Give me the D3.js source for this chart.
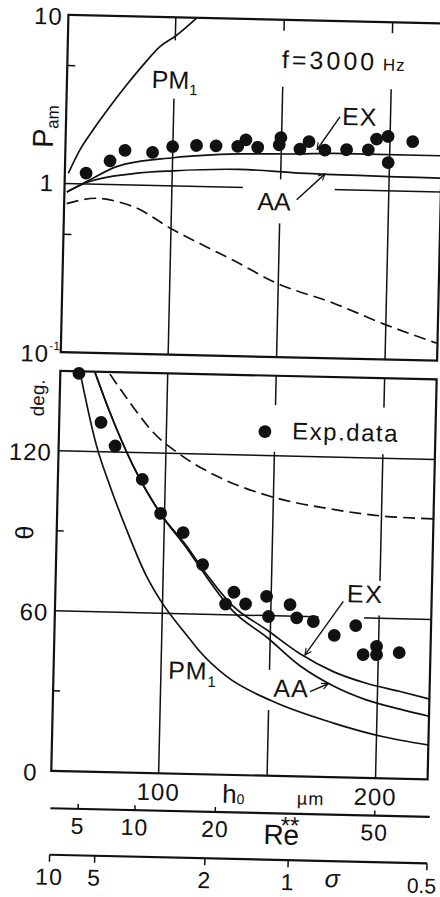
<!DOCTYPE html>
<html>
  <head>
    <style>
      body { margin: 0; background: #fff; }
      text { font-family: 'Liberation Sans', Arial, sans-serif; fill: #111; }
      .frame { fill: none; stroke: #111; stroke-width: 2.2px; }
      .grid { stroke: #111; stroke-width: 1.5px; }
      .curve { fill: none; stroke: #111; stroke-width: 1.7px; }
      .dashed { stroke-dasharray: 12, 6; }
      .knock { fill: #fff; }
      .lead { stroke: #111; stroke-width: 1.4px; fill: none; }
    </style>
  </head>
  <body>
    <script src="https://d3js.org/d3.v7.min.js"></script>
    <script>
      // ---- data (h0 in micrometres) ----
      // upper panel: amplitude ratio P_am (log)
      var pamMinor = [5, 0.5];
      var topDotH0 = [60.3, 71.2, 78, 90.7, 99.9, 110.9, 119.9, 129.9, 133.6, 139.1, 149, 149.7, 158.6, 162.7, 170.1, 180.1, 190.1, 193.8, 199.1, 199.4, 210.5];
      var topDotPam = [1.16, 1.38, 1.6, 1.57, 1.71, 1.75, 1.75, 1.75, 1.92, 1.74, 1.81, 2.0, 1.72, 1.91, 1.71, 1.73, 1.74, 2.02, 2.1, 1.47, 1.97];
      var pm1TopH0 = [52.1, 57.2, 63.1, 70.6, 78.1, 85.5, 93, 99.8, 109.6];
      var pm1TopPam = [1.15, 1.59, 2.10, 2.9, 3.92, 5.17, 6.67, 7.69, 9.95];
      var exTopH0 = [51.6, 62.2, 74.3, 100.4, 131, 158.7, 174, 223.2];
      var exTopPam = [0.89, 1.06, 1.28, 1.47, 1.58, 1.61, 1.64, 1.64];
      var aaTopH0 = [51.6, 60.6, 82.1, 100.4, 131, 158.9, 223.5];
      var aaTopPam = [0.89, 1.02, 1.17, 1.23, 1.28, 1.24, 1.21];
      var dashTopH0 = [51.7, 65.4, 77.7, 82.4, 101, 116.6, 129, 149.3, 175.4, 200.4, 223.6];
      var dashTopPam = [0.76, 0.826, 0.778, 0.745, 0.55, 0.44, 0.37, 0.274, 0.213, 0.16, 0.127];

      // lower panel: phase angle theta (deg.)
      var thetaTicks = [120, 60, 0];
      var thetaMinor = [90, 30];
      var botDotH0 = [59.1, 69.8, 76.5, 89.4, 98.2, 108.8, 118.1, 129.1, 132.8, 138.3, 147.9, 149, 158.8, 162, 169.7, 179.5, 189.3, 193, 199.1, 199.2, 209.6];
      var botDotTheta = [149.2, 131, 122.3, 110, 97.4, 90.4, 78.6, 64, 68.5, 64.2, 67.2, 59.7, 64.3, 59.4, 58.2, 53.2, 57, 46.2, 49.4, 46.3, 47.3];
      var pm1BotH0 = [59.6, 68, 74.6, 82.7, 92.4, 98.8, 111.5, 117.7, 130.3, 151, 180, 203.1, 224];
      var pm1BotTheta = [149.6, 122.1, 107.2, 91, 73.7, 65.1, 52, 46, 36.9, 28.2, 20.3, 15.6, 12.9];
      var exBotH0 = [66.5, 73.8, 85.1, 97.9, 110.6, 118.4, 132.7, 148.3, 163.9, 179.4, 194.8, 210.4, 224.2];
      var exBotTheta = [149.7, 134.8, 114.9, 97.6, 85.3, 76.7, 63.2, 54.7, 46, 39.6, 35.5, 32.7, 30.1];
      var aaBotH0 = [66.5, 73.8, 85.1, 97.9, 110.6, 118.4, 132.7, 148.3, 164, 179.4, 194.9, 210.5, 224.4];
      var aaBotTheta = [149.7, 134.8, 114.9, 97.6, 84.6, 75.8, 61.3, 52, 41.5, 34.3, 29.3, 26.1, 23.6];
      var dashBotH0 = [73.4, 82.9, 94, 106.5, 123.6, 148.4, 177.7, 200.8, 223.9];
      var dashBotTheta = [149.2, 138.7, 127.7, 119.7, 111.9, 104.8, 100.4, 98.3, 97.7];

      // abscissae
      var h0Ticks = [100, 150, 200];
      var h0Labels = [100, 200];
      var reTicks = [5, 10, 20, 50];
      var sigmaLabels = ["10", "5", "2", "1", "0.5"];
      var sigmaAtH0 = [50.6, 71.4, 122.2, 160.6, 224.6];

      // ---- layout ----
      var width = 440, height = 897;
      var svg = d3.select("body").append("svg")
        .attr("width", width)
        .attr("height", height);

      svg.append("defs").append("marker")
        .attr("id", "head")
        .attr("viewBox", "0 0 10 10")
        .attr("refX", 9).attr("refY", 5)
        .attr("markerWidth", 8).attr("markerHeight", 8)
        .attr("markerUnits", "userSpaceOnUse")
        .attr("orient", "auto")
        .append("path")
        .attr("d", "M1,1 L9,5 L1,9")
        .attr("fill", "none").attr("stroke", "#111").attr("stroke-width", 1.4);

      // the scanned figure sits slightly turned on the page
      var g = svg.append("g").attr("transform", "rotate(1.3,220,450)");

      var x = d3.scaleLinear().domain([50.5, 224]).range([58.6, 435]);
      var yP = d3.scaleLog().domain([0.1, 10]).range([355.8, 18.4]);
      var yT = d3.scaleLinear().domain([0, 150]).range([774.6, 374.5]);
      var xRe = d3.scaleSqrt().domain([50.5 * 50.5 / 800, 224 * 224 / 800]).range(x.range());

      var gridG = g.append("g");
      var knockG = g.append("g");
      var curveG = g.append("g");
      var textG = g.append("g");

      // grid lines
      gridG.selectAll(".vt").data(h0Ticks).enter().append("line")
        .attr("class", "grid")
        .attr("x1", function(d) { return x(d); }).attr("x2", function(d) { return x(d); })
        .attr("y1", yP(10)).attr("y2", yP(0.1));
      gridG.append("line").attr("class", "grid")
        .attr("x1", x.range()[0]).attr("x2", x.range()[1])
        .attr("y1", yP(1)).attr("y2", yP(1));
      gridG.selectAll(".vb").data(h0Ticks).enter().append("line")
        .attr("class", "grid")
        .attr("x1", function(d) { return x(d); }).attr("x2", function(d) { return x(d); })
        .attr("y1", yT(150)).attr("y2", yT(0));
      gridG.selectAll(".hb").data([60, 120]).enter().append("line")
        .attr("class", "grid")
        .attr("x1", x.range()[0]).attr("x2", x.range()[1])
        .attr("y1", function(d) { return yT(d); }).attr("y2", function(d) { return yT(d); });
      gridG.selectAll(".mt").data(pamMinor).enter().append("line")
        .attr("class", "grid")
        .attr("x1", x.range()[0]).attr("x2", x.range()[0] + 8)
        .attr("y1", function(d) { return yP(d); }).attr("y2", function(d) { return yP(d); });
      gridG.selectAll(".mb").data(thetaMinor).enter().append("line")
        .attr("class", "grid")
        .attr("x1", x.range()[0]).attr("x2", x.range()[0] + 7)
        .attr("y1", function(d) { return yT(d); }).attr("y2", function(d) { return yT(d); });

      // white gaps the draughtsman left round the labels
      var knockTop = [[93, 118, 3.3, 7.3], [145, 215, 4.0, 8.6], [132.7, 175, 0.62, 1.13]];
      var knockBot = [[142, 215, 121.5, 139], [180, 206, 61, 74], [172, 193, 58.5, 62], [142, 163, 24.6, 39.7]];
      knockG.selectAll(".kt").data(knockTop).enter().append("rect")
        .attr("class", "knock")
        .attr("x", function(d) { return x(d[0]); })
        .attr("width", function(d) { return x(d[1]) - x(d[0]); })
        .attr("y", function(d) { return yP(d[3]); })
        .attr("height", function(d) { return yP(d[2]) - yP(d[3]); });
      knockG.selectAll(".kb").data(knockBot).enter().append("rect")
        .attr("class", "knock")
        .attr("x", function(d) { return x(d[0]); })
        .attr("width", function(d) { return x(d[1]) - x(d[0]); })
        .attr("y", function(d) { return yT(d[3]); })
        .attr("height", function(d) { return yT(d[2]) - yT(d[3]); });

      // frames
      g.append("rect").attr("class", "frame")
        .attr("x", x.range()[0]).attr("y", yP(10))
        .attr("width", x.range()[1] - x.range()[0]).attr("height", yP(0.1) - yP(10));
      g.append("rect").attr("class", "frame")
        .attr("x", x.range()[0]).attr("y", yT(150))
        .attr("width", x.range()[1] - x.range()[0]).attr("height", yT(0) - yT(150));

      // curves
      var lineP = d3.line().curve(d3.curveMonotoneX)
        .x(function(d) { return x(d[0]); }).y(function(d) { return yP(d[1]); });
      var lineT = d3.line().curve(d3.curveMonotoneX)
        .x(function(d) { return x(d[0]); }).y(function(d) { return yT(d[1]); });

      [[pm1TopH0, pm1TopPam, ""], [exTopH0, exTopPam, ""], [aaTopH0, aaTopPam, ""], [dashTopH0, dashTopPam, " dashed"]]
        .forEach(function(c) {
          curveG.append("path").attr("class", "curve" + c[2]).attr("d", lineP(d3.zip(c[0], c[1])));
        });
      [[pm1BotH0, pm1BotTheta, ""], [exBotH0, exBotTheta, ""], [aaBotH0, aaBotTheta, ""], [dashBotH0, dashBotTheta, " dashed"]]
        .forEach(function(c) {
          curveG.append("path").attr("class", "curve" + c[2]).attr("d", lineT(d3.zip(c[0], c[1])));
        });

      // experimental points
      curveG.selectAll(".dt").data(d3.zip(topDotH0, topDotPam)).enter().append("circle")
        .attr("cx", function(d) { return x(d[0]); })
        .attr("cy", function(d) { return yP(d[1]); })
        .attr("r", 6.4).attr("fill", "#111");
      curveG.selectAll(".db").data(d3.zip(botDotH0, botDotTheta)).enter().append("circle")
        .attr("cx", function(d) { return x(d[0]); })
        .attr("cy", function(d) { return yT(d[1]); })
        .attr("r", 6.4).attr("fill", "#111");

      // leader lines
      var leadTop = [[176.7, 2.70, 166.5, 1.72], [157.6, 0.86, 170.4, 1.236]];
      var leadBot = [[183.3, 66, 166.2, 45.6], [168.9, 31.9, 177.2, 35.0]];
      leadTop.forEach(function(d) {
        curveG.append("line").attr("class", "lead").attr("marker-end", "url(#head)")
          .attr("x1", x(d[0])).attr("y1", yP(d[1])).attr("x2", x(d[2])).attr("y2", yP(d[3]));
      });
      leadBot.forEach(function(d) {
        curveG.append("line").attr("class", "lead").attr("marker-end", "url(#head)")
          .attr("x1", x(d[0])).attr("y1", yT(d[1])).attr("x2", x(d[2])).attr("y2", yT(d[3]));
      });

      // text helper: parts = [text, size, dy, letterSpacing, italic]
      function label(px, py, anchor, parts) {
        var t = textG.append("text").attr("x", px).attr("y", py).attr("text-anchor", anchor);
        parts.forEach(function(p) {
          var s = t.append("tspan").text(p[0]).style("font-size", p[1] + "px");
          if (p[2]) s.attr("dy", p[2]);
          if (p[3]) s.style("letter-spacing", p[3] + "px");
          if (p[4]) s.style("font-style", "italic");
        });
        return t;
      }

      // y tick labels
      label(53, yP(10) + 10, "end", [["10", 24, 0, 1]]);
      label(47, yP(1) + 8, "end", [["1", 24]]);
      label(47, yP(0.1) + 10, "end", [["10", 24, 0, 1]]);
      label(47, yP(0.1) + 10, "start", [["-1", 12, -12]]);
      thetaTicks.forEach(function(v) {
        label(v === 0 ? 45 : 52, yT(v) + 10, "end", [[String(v), 24, 0, 1]]);
      });

      // axis titles
      textG.append("text").attr("transform", "translate(46,130.5) rotate(-90)")
        .attr("text-anchor", "middle")
        .call(function(t) {
          t.append("tspan").text("P").style("font-size", "29px");
          t.append("tspan").text("am").style("font-size", "17px").attr("dy", 5);
        });
      textG.append("text").attr("transform", "translate(43,402) rotate(-90)")
        .attr("text-anchor", "middle").style("font-size", "19px").text("deg.");
      textG.append("text").attr("transform", "translate(35,537) rotate(-90)")
        .attr("text-anchor", "middle").style("font-size", "25px").text("θ");

      // panel annotations
      label(x(89.6), yP(3.78), "start", [["PM", 25], ["1", 15, 6]]);
      label(x(149.4), yP(5.16), "start", [["f=3000", 25, 0, 3], [" Hz", 17, 0, 1]]);
      label(x(177.7), yP(2.42), "start", [["EX", 25, 0, 1]]);
      label(x(139.5), yP(0.74), "start", [["AA", 25]]);

      textG.append("circle").attr("cx", x(145.4)).attr("cy", yT(129)).attr("r", 6.4).attr("fill", "#111");
      label(x(158), yT(126.3), "start", [["Exp.data", 24, 0, 1.5]]);
      label(x(184.9), yT(65.7), "start", [["EX", 25, 0, 1.5]]);
      label(x(152), yT(29.7), "start", [["AA", 25, 0, 1]]);
      label(x(103.3), yT(35.5), "start", [["PM", 25, 0, 1], ["1", 15, 7]]);

      // h0 axis
      h0Labels.forEach(function(v) {
        label(x(v), yT(0) + 27, "middle", [[String(v), 24, 0, 1]]);
      });
      label(x(129.5), yT(0) + 28, "start", [["h", 26], ["0", 14, 1]]);
      label(x(164), yT(0) + 28, "start", [["µm", 18, 0, 1]]);

      // Re** axis
      var reY = 812;
      textG.append("line").attr("class", "frame")
        .attr("x1", x.range()[0]).attr("x2", x.range()[1] + 3)
        .attr("y1", reY).attr("y2", reY);
      textG.selectAll(".rt").data(reTicks).enter().append("line")
        .attr("class", "grid")
        .attr("x1", function(d) { return xRe(d); }).attr("x2", function(d) { return xRe(d); })
        .attr("y1", reY).attr("y2", reY - 5);
      reTicks.forEach(function(v) {
        label(xRe(v), reY + 25, "middle", [[String(v), 23, 0, 1]]);
      });
      label(x(148.9), reY + 31, "start", [["Re", 28]]);
      label(x(148.9) + 17, reY + 20, "start", [["**", 24]]);

      // sigma axis
      var sgY = 858.5;
      var sgLast = sigmaLabels.length - 1;
      textG.append("line").attr("class", "frame")
        .attr("x1", x(sigmaAtH0[0])).attr("x2", x(sigmaAtH0[sgLast]))
        .attr("y1", sgY).attr("y2", sgY);
      textG.selectAll(".st").data(sigmaAtH0).enter().append("line")
        .attr("class", "grid")
        .attr("x1", function(d) { return x(d); }).attr("x2", function(d) { return x(d); })
        .attr("y1", sgY).attr("y2", sgY + 7);
      sigmaLabels.forEach(function(s, i) {
        if (i === sgLast) {
          label(x(sigmaAtH0[i]) - 5, sgY + 30, "middle", [[s, 21]]);
        } else {
          label(x(sigmaAtH0[i]), sgY + 30, "middle", [[s, 23, 0, 1]]);
        }
      });
      label(x(177.6), sgY + 26, "start", [["σ", 25, 0, 0, true]]);
    </script>
  </body>
</html>
